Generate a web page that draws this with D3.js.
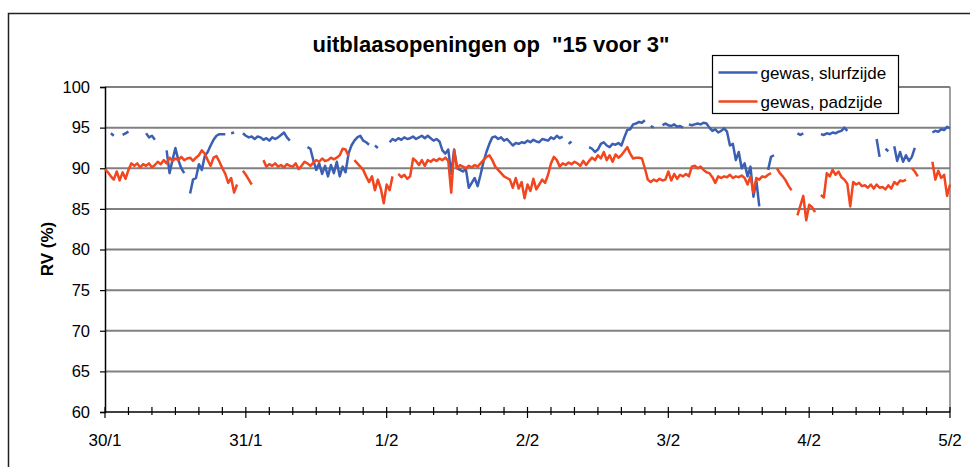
<!DOCTYPE html>
<html>
<head>
<meta charset="utf-8">
<script src="https://cdn.jsdelivr.net/npm/d3@7"></script>
<style>
body { margin: 0; background: #fff; }
text { font-family: Arial, "Liberation Sans", sans-serif; }
</style>
</head>
<body>
<div id="chart"></div>
<script>
// half-hourly readings from 30/1 00:00 (step 0) to 5/2 00:00 (step 288), null = no data
var slurfzijde = [
  null, null, 94.3, 94.0, null, null, 94.1, 94.3, 94.5, null,
  null, null, null, null, 94.3, 93.8, 94.0, 93.5, null, null,
  null, 92.2, 89.4, 91.0, 92.5, 91.0, 90.0, 89.4, null, 86.9,
  88.6, 88.8, 90.5, 89.8, 91.5, 92.0, 92.8, 93.5, 94.0, 94.2,
  94.2, 94.2, null, 94.3, 94.4, null, null, 94.3, 94.0, 93.8,
  93.9, 93.6, 93.9, 93.8, 93.5, 93.7, 93.4, 93.8, 93.6, 93.8,
  94.1, 94.4, 93.8, 93.4, null, null, null, null, null, 92.6,
  92.4, 91.0, 89.8, 90.6, 89.3, 90.3, 89.0, 90.4, 89.4, 90.8,
  89.0, 90.2, 89.5, 91.8, 92.8, 93.4, 93.8, 94.0, 93.4, 93.2,
  92.9, null, 92.8, 92.5, null, null, null, 93.2, 93.6, 93.4,
  93.7, 93.5, 93.8, 93.6, 93.7, 93.9, 93.6, 93.8, 94.0, 93.7,
  94.0, 93.7, 93.4, 93.6, 93.3, 92.2, 91.8, 92.3, 89.3, 92.3,
  90.0, 89.8, 89.6, 89.9, 87.6, 88.2, 88.8, 87.8, 89.2, 90.8,
  92.0, 93.0, 93.8, 93.9, 93.6, 93.8, 93.4, 93.6, 93.2, 92.8,
  93.1, 93.0, 93.2, 93.1, 93.4, 93.2, 93.5, 93.3, 93.2, 93.6,
  93.5, 93.4, 93.8, 93.6, 94.0, 93.7, 93.9, null, 93.0, 93.3,
  null, null, null, null, null, 92.6, 92.4, 92.0, 92.3, 93.0,
  93.2, 92.8, 92.6, 93.0, 92.9, 93.1, 92.8, 93.8, 94.7, 94.8,
  95.4, 95.5, 95.7, 95.6, 95.9, null, 95.2, 95.0, null, null,
  95.3, 95.5, 95.3, 95.2, 95.4, 95.1, 95.2, 95.0, null, 95.4,
  95.3, 95.4, 95.5, 95.4, 95.6, 95.5, 95.0, 94.6, 94.8, 94.4,
  94.6, 94.9, 94.5, 92.8, 93.0, 91.0, 92.0, 90.0, 90.6, 89.0,
  90.2, 86.5, 88.5, 85.3, null, null, 89.8, 91.4, 91.6, null,
  null, null, null, null, null, null, 94.3, 94.1, 94.3, null,
  null, null, null, null, 94.2, 94.1, 94.3, 94.2, 94.4, 94.3,
  94.5, 94.6, 95.0, 94.6, null, null, null, null, null, null,
  null, null, null, 93.6, 91.4, null, 92.4, 92.1, null, 92.7,
  90.9, 92.0, 90.8, 91.6, 90.9, 91.4, 92.5, null, null, null,
  null, null, 94.4, 94.6, 94.5, 94.8, 94.7, 95.1, 94.9
];

var padzijde = [
  89.9, 89.5, 89.0, 88.6, 89.6, 88.5, 89.5, 88.7, 89.8, 90.6,
  90.3, 90.6, 90.1, 90.5, 90.3, 90.6, 90.1, 90.4, 90.8, 90.5,
  91.0, 90.6, 91.3, 90.9, 91.2, 91.0, 91.4, 91.0, 91.2, 91.3,
  90.9, 91.3, 91.6, 92.2, 91.8, 91.0, 90.3, 91.3, 91.5, 90.8,
  90.0, 89.3, 88.2, 88.8, 87.0, 88.0, null, 89.7, 89.2, 88.6,
  88.0, null, null, null, 91.0, 90.2, 90.5, 90.3, 90.6, 90.2,
  90.4, 90.1, 90.5, 90.3, 90.2, 90.6, 89.9, 90.3, 90.8, 90.6,
  90.3, 90.7, 91.0, 90.8, 91.2, 90.9, 91.0, 91.3, 91.1, 91.3,
  91.6, 92.4, 92.3, 91.5, null, 91.0, 90.6, 90.2, 89.8, 89.0,
  88.3, 89.0, 87.3, 88.6, 87.5, 85.7, 88.0, 87.3, 89.0, null,
  89.3, 88.9, 89.2, 88.7, 89.0, 91.2, 90.9, 90.4, 91.0, 90.3,
  91.0, 90.8, 91.1, 90.9, 91.2, 91.0, 91.3, 90.9, 87.0, 92.2,
  90.0, 90.4, 90.2, 90.0, 90.3, 90.1, 90.4, 90.2, 90.6, 91.0,
  91.4, 91.6, 91.0, 90.2, 89.8, 89.4, 89.0, 88.8, 88.6, 87.6,
  88.8, 87.5, 88.3, 86.3, 88.0, 87.2, 88.7, 87.4, 88.0, 88.6,
  88.2, 89.2, 90.6, 91.4, 91.0, 90.2, 90.6, 90.4, 90.7, 90.5,
  90.8, 90.6, 90.3, 90.9, 90.4, 90.9, 91.3, 91.0, 91.6, 91.2,
  92.0, 91.0, 91.6, 90.8, 91.7, 91.3, 91.6, 92.1, 92.6, 91.8,
  91.2, 91.3, 91.3, 91.2, 90.0, 88.6, 88.3, 88.6, 88.4, 88.7,
  88.5, 88.6, 89.6, 88.5, 89.3, 88.7, 89.2, 89.0, 89.3, 89.0,
  90.2, 90.3, 90.0, 90.2, 89.8, 89.5, 89.4, 88.9, 88.2, 89.0,
  88.8, 89.0, 88.9, 89.2, 88.8, 89.0, 88.9, 89.1, 88.8, 88.0,
  89.0, 87.0, 88.8, 88.6, 89.0, 88.9, 89.2, 89.4, null, 90.0,
  89.4, 89.0, 88.5, 87.8, 87.3, null, 84.2, 85.4, 86.6, 83.6,
  85.5, 85.2, 84.6, null, 86.7, 86.4, 89.4, 89.0, 89.8, 89.2,
  89.6, 88.9, 88.6, 88.1, 85.3, 88.3, 88.0, 88.2, 87.8, 87.9,
  87.6, 88.0, 87.5, 88.0, 87.6, 87.7, 87.4, 87.9, 87.5, 88.3,
  88.0, 88.5, 88.4, 88.6, null, 90.0, 89.6, 89.0, null, null,
  null, null, 90.8, 88.6, 89.7, 88.8, 89.2, 86.6, 88.0
];

var dayLabels = ["30/1", "31/1", "1/2", "2/2", "3/2", "4/2", "5/2"];
var yTicks = [60, 65, 70, 75, 80, 85, 90, 95, 100];
var seriesNames = ["gewas, slurfzijde", "gewas, padzijde"];
var seriesColors = ["#3b5fb3", "#f2461f"];

var svgWidth = 970;
var svgHeight = 467;

var margin = { t: 87, r: 20, b: 55, l: 105 };
var width = 950 - margin.l;
var height = 412 - margin.t;

var svg = d3.select("#chart")
    .append("svg")
    .attr("width", svgWidth)
    .attr("height", svgHeight);

// outer chart frame (runs off the right and bottom edge)
svg.append("path")
    .attr("d", "M8.5,480 L8.5,13.5 L990,13.5")
    .attr("fill", "none")
    .attr("stroke", "#222")
    .attr("stroke-width", 1.5);

var g = svg.append("g")
    .attr("transform", `translate(${margin.l}, ${margin.t})`);

var x = d3.scaleLinear()
    .domain([0, 288])
    .range([0, width]);

var y = d3.scaleLinear()
    .domain([60, 100])
    .range([height, 0]);

// gridlines
g.selectAll(".grid")
    .data(yTicks.filter(d => d > 60))
    .enter()
    .append("line")
    .attr("x1", 0)
    .attr("x2", width)
    .attr("y1", d => y(d))
    .attr("y2", d => y(d))
    .attr("stroke", "#808080")
    .attr("stroke-width", 2);

// plot area right border
g.append("line")
    .attr("x1", width).attr("x2", width)
    .attr("y1", 0).attr("y2", height)
    .attr("stroke", "#808080")
    .attr("stroke-width", 1.5);

// y axis
var leftAxis = d3.axisLeft(y)
    .tickValues(yTicks)
    .tickSize(5)
    .tickPadding(10);

var yAxisG = g.append("g").call(leftAxis);
yAxisG.select(".domain").attr("stroke", "#000").attr("stroke-width", 1.5);
yAxisG.selectAll(".tick line").attr("stroke", "#000").attr("stroke-width", 1.2);
yAxisG.selectAll("text")
    .attr("font-size", "16.5px")
    .attr("font-family", "Arial, 'Liberation Sans', sans-serif")
    .attr("fill", "#000");

// x axis: ticks every 4 hours, labels every day
var xAxisG = g.append("g")
    .attr("transform", `translate(0, ${height})`);

xAxisG.append("line")
    .attr("x1", 0).attr("x2", width)
    .attr("y1", 0).attr("y2", 0)
    .attr("stroke", "#000")
    .attr("stroke-width", 1.5);

xAxisG.selectAll(".xt")
    .data(d3.range(0, 289, 8))
    .enter()
    .append("line")
    .attr("x1", d => x(d))
    .attr("x2", d => x(d))
    .attr("y1", -5)
    .attr("y2", d => d % 48 === 0 ? 6 : 3)
    .attr("stroke", "#000")
    .attr("stroke-width", 1.2);

xAxisG.selectAll(".xl")
    .data(dayLabels)
    .enter()
    .append("text")
    .attr("x", (d, i) => x(i * 48))
    .attr("y", 34)
    .attr("text-anchor", "middle")
    .attr("font-size", "17px")
    .attr("fill", "#000")
    .text(d => d);

// series lines
var line = d3.line()
    .defined(d => d != null)
    .x((d, i) => x(i))
    .y(d => y(d));

[slurfzijde, padzijde].forEach(function(s, k) {
    g.append("path")
        .datum(s)
        .attr("fill", "none")
        .attr("stroke", seriesColors[k])
        .attr("stroke-width", 2.5)
        .attr("stroke-linejoin", "round")
        .attr("d", line);
});

// title
svg.append("text")
    .attr("x", 491)
    .attr("y", 52)
    .attr("text-anchor", "middle")
    .attr("font-size", "22px")
    .attr("font-weight", "bold")
    .style("white-space", "pre")
    .text('uitblaasopeningen op  "15 voor 3"');

// y label
svg.append("text")
    .attr("transform", "translate(53, 249) rotate(-90)")
    .attr("text-anchor", "middle")
    .attr("font-size", "17px")
    .attr("font-weight", "bold")
    .text("RV (%)");

// legend
var legend = svg.append("g")
    .attr("transform", "translate(712.5, 55.5)");

legend.append("rect")
    .attr("width", 186)
    .attr("height", 58)
    .attr("fill", "#fff")
    .attr("stroke", "#000")
    .attr("stroke-width", 1.2);

seriesNames.forEach(function(name, k) {
    var ly = 17 + k * 29;
    legend.append("line")
        .attr("x1", 6).attr("x2", 45)
        .attr("y1", ly).attr("y2", ly)
        .attr("stroke", seriesColors[k])
        .attr("stroke-width", 2.5);
    legend.append("text")
        .attr("x", 48)
        .attr("y", ly + 6)
        .attr("font-size", "17px")
        .text(name);
});
</script>
</body>
</html>
